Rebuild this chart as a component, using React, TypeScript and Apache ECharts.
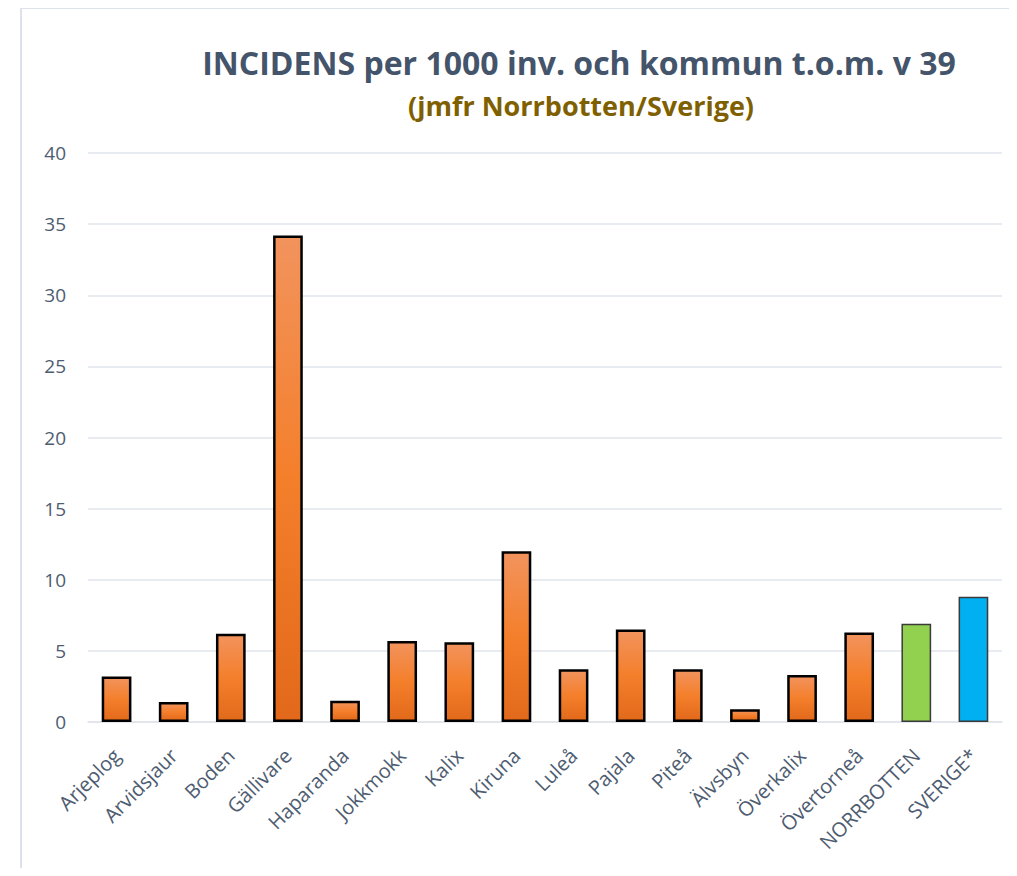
import React, { useEffect, useRef } from "react";
import * as echarts from "echarts";

const categories = [
  "Arjeplog", "Arvidsjaur", "Boden", "Gällivare", "Haparanda", "Jokkmokk", "Kalix", "Kiruna",
  "Luleå", "Pajala", "Piteå", "Älvsbyn", "Överkalix", "Övertorneå", "NORRBOTTEN", "SVERIGE*",
];
const incidens = [3.2, 1.4, 6.2, 34.2, 1.5, 5.7, 5.6, 12.0, 3.7, 6.5, 3.7, 0.9, 3.3, 6.3, 6.9, 8.8];
const yTicks = [0, 5, 10, 15, 20, 25, 30, 35, 40];

const TITLE = "INCIDENS per 1000 inv. och kommun t.o.m. v 39";
const SUBTITLE = "(jmfr Norrbotten/Sverige)";

const FONT = "'Open Sans', 'Noto Sans', sans-serif";
const TEXT = "#4E5C70";

const orangeFill = new echarts.graphic.LinearGradient(0, 0, 0, 1, [
  { offset: 0, color: "#F2935D" },
  { offset: 0.5, color: "#F47F2B" },
  { offset: 1, color: "#E2691B" },
]);

const special: Record<string, string> = {
  NORRBOTTEN: "#92D050",
  "SVERIGE*": "#00B0F0",
};

export default function App() {
  const ref = useRef<HTMLDivElement>(null);
  useEffect(() => {
    if (!ref.current) return;
    const chart = echarts.init(ref.current, undefined, { renderer: "svg" });
    const data = incidens.map((v, i) => {
      const c = categories[i];
      if (special[c]) {
        return {
          value: v,
          itemStyle: { color: special[c], borderColor: "#3A3A3A", borderWidth: 1.5 },
        };
      }
      return {
        value: v,
        itemStyle: { color: orangeFill, borderColor: "#000000", borderWidth: 2.5 },
      };
    });
    chart.setOption({
      animation: false,
      backgroundColor: "#FFFFFF",
      title: [
        {
          text: TITLE,
          left: 566,
          top: 33,
          textAlign: "center",
          textStyle: { fontFamily: FONT, fontWeight: "bold", fontSize: 32, color: "#44546A" },
        },
        {
          text: SUBTITLE,
          left: 568,
          top: 79,
          textAlign: "center",
          textStyle: { fontFamily: FONT, fontWeight: "bold", fontSize: 27, color: "#7F6000" },
        },
      ],
      graphic: [
        {
          type: "rect",
          shape: { x: 13, y: 0, width: 1200, height: 1200 },
          style: { fill: "none", stroke: "#DCE2EA", lineWidth: 2 },
          silent: true,
          z: -1,
        },
      ],
      grid: { left: 80, right: 7, top: 145, bottom: 146, containLabel: false },
      xAxis: {
        type: "category",
        data: categories,
        axisTick: { show: false },
        axisLine: { show: true, lineStyle: { color: "#E0E4EA", width: 1.5 } },
        axisLabel: {
          rotate: 45,
          interval: 0,
          margin: 30,
          fontFamily: FONT,
          fontSize: 20,
          color: TEXT,
        },
      },
      yAxis: {
        type: "value",
        min: yTicks[0],
        max: yTicks[yTicks.length - 1],
        interval: 5,
        axisLine: { show: false },
        axisTick: { show: false },
        splitLine: { lineStyle: { color: "#E0E4EA", width: 1.5 } },
        axisLabel: { fontFamily: FONT, fontSize: 19, color: TEXT, margin: 22 },
      },
      series: [
        {
          type: "bar",
          data,
          barWidth: "52%",
        },
      ],
    });
    return () => chart.dispose();
  }, []);
  return <div ref={ref} style={{ width: 1001, height: 860 }} />;
}
